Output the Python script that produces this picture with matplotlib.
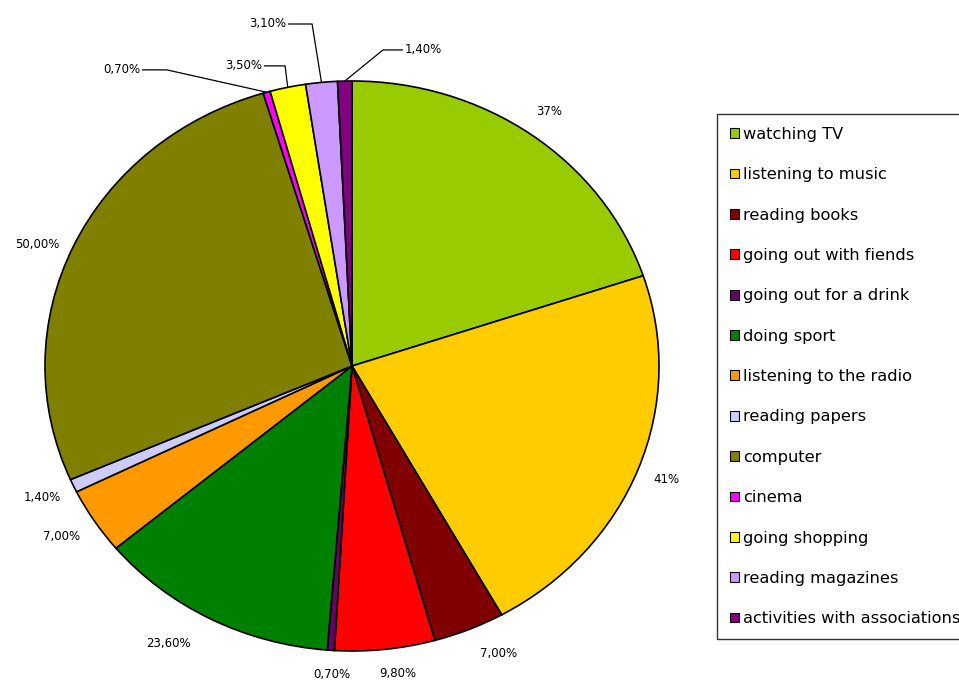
import numpy as np
import matplotlib
matplotlib.use("Agg")
import matplotlib.pyplot as plt

# data
activities = ["watching TV", "listening to music", "reading books",
              "going out with fiends", "going out for a drink", "doing sport",
              "listening to the radio", "reading papers", "computer", "cinema",
              "going shopping", "reading magazines", "activities with associations"]
values = [37, 41, 7.0, 9.8, 0.7, 23.6, 7.0, 1.4, 50.0, 0.7, 3.5, 3.1, 1.4]
value_labels = ["37%", "41%", "7,00%", "9,80%", "0,70%", "23,60%", "7,00%",
                "1,40%", "50,00%", "0,70%", "3,50%", "3,10%", "1,40%"]
colors = ["#99CC00", "#FFCC00", "#800000", "#FF0000", "#660066", "#008000",
          "#FF9900", "#CCCCFF", "#808000", "#FF00FF", "#FFFF00", "#CC99FF",
          "#800080"]

# small slices at the top get a leader line: index -> (text xy, elbow xy, ha)
leaders = {
    9: ((-0.684, 1.039), (-0.603, 1.039), "right"),
    10: ((-0.287, 1.053), (-0.218, 1.053), "right"),
    11: ((-0.208, 1.200), (-0.130, 1.200), "right"),
    12: ((0.166, 1.109), (0.101, 1.109), "left"),
}
# pixel nudges for the other labels (x right, y down)
nudges = {2: (18, -2), 3: (9, -4), 4: (3, -4), 5: (-28, -1),
          6: (-7, 0), 7: (-3, 0), 8: (-8, 10)}

W, H = 959, 681
fig = plt.figure(figsize=(W / 100, H / 100), dpi=100)
ax = fig.add_axes([0, 0, 1, 1])

# pie centre at (352, 366) px, radii 307 x 285 px (the original is a bit oval)
cx, cy, rx, ry = 352, 366, 307, 285

wedges, texts = ax.pie(values, colors=colors, labels=value_labels,
                       startangle=90, counterclock=False, labeldistance=1.1,
                       wedgeprops=dict(edgecolor="black", linewidth=1.2),
                       textprops=dict(fontsize=8.5, family="DejaVu Sans"))
ax.set_aspect("auto")
ax.set_xlim(-cx / rx, (W - cx) / rx)
ax.set_ylim(-(H - cy) / ry, cy / ry)
ax.axis("off")

for i, t in enumerate(texts):
    t.set_ha("center")
    t.set_va("center")
    if i in nudges:
        x, y = t.get_position()
        dx, dy = nudges[i]
        t.set_position((x + dx / rx, y - dy / ry))

for i, (txy, elbow, ha) in leaders.items():
    w = wedges[i]
    mid = np.deg2rad((w.theta1 + w.theta2) / 2)
    tip = (np.cos(mid), np.sin(mid))
    texts[i].set_position((txy[0] + (-0.005 if ha == "right" else 0.005), txy[1]))
    texts[i].set_ha(ha)
    ax.plot([txy[0], elbow[0], tip[0]], [txy[1], elbow[1], tip[1]],
            color="black", linewidth=0.9, solid_capstyle="butt")

handles = [plt.Rectangle((0, 0), 1, 1, facecolor=c, edgecolor="black", linewidth=0.8)
           for c in colors]
leg = fig.legend(handles, activities, loc="upper left",
                 bbox_to_anchor=(717 / W, 1 - 114 / H), borderaxespad=0,
                 fancybox=False, frameon=True, fontsize=11.7,
                 handlelength=0.55, handleheight=0.55, handletextpad=0.25,
                 labelspacing=1.56, borderpad=0.8)
leg.get_frame().set_edgecolor("black")
leg.get_frame().set_linewidth(1)

fig.savefig("out.png", dpi=100)
